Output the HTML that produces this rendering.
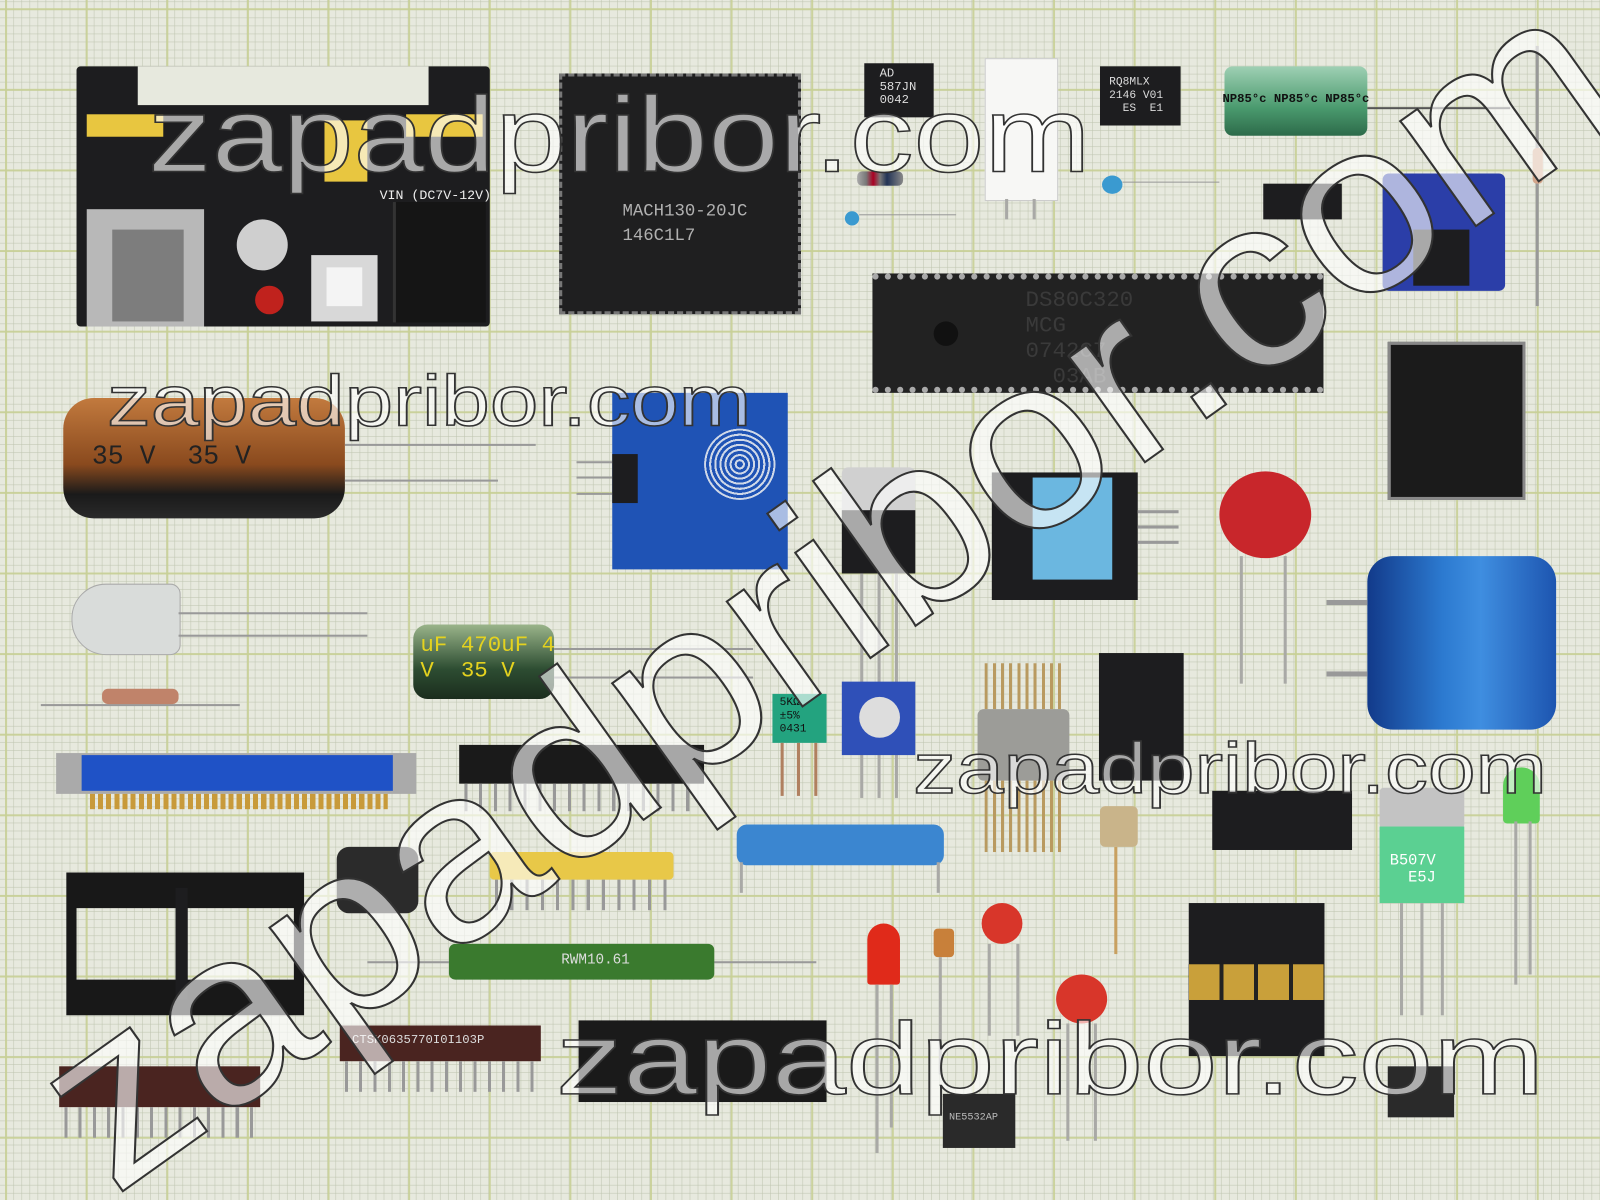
<!DOCTYPE html>
<html><head><meta charset="utf-8"><style>
html,body{margin:0;padding:0;width:1600px;height:1200px;overflow:hidden;background:#e7e9de}
#w{position:absolute;left:0;top:0;width:1568px;height:1176px;overflow:hidden;transform:scale(1.0204);transform-origin:0 0;
background-color:#e7e9de;
background-image:
linear-gradient(90deg,rgba(200,208,150,.9) 2px,transparent 2px),
linear-gradient(0deg,rgba(200,208,150,.9) 2px,transparent 2px),
linear-gradient(90deg,rgba(190,196,175,.55) 1px,transparent 1px),
linear-gradient(0deg,rgba(190,196,175,.55) 1px,transparent 1px);
background-size:79px 79px,79px 79px,7.9px 7.9px,7.9px 7.9px;
background-position:5px 10px,5px 10px,5px 10px,5px 10px;
font-family:"Liberation Sans",sans-serif}
.a{position:absolute}
.blk{background:#1d1d1f}
.leg{position:absolute;background:#a9a9a6;width:3px}
.wm{position:absolute;white-space:nowrap;color:rgba(255,255,255,.62);-webkit-text-stroke:1.5px #333;font-family:"Liberation Sans",sans-serif;line-height:1;transform-origin:0 0}
.t{position:absolute;color:#ccc;font-family:"Liberation Mono",monospace;white-space:nowrap}
</style></head><body><div id="w">

<!-- breadboard power -->
<div class="a blk" style="left:75px;top:65px;width:405px;height:255px;border-radius:4px"></div>
<div class="a" style="left:135px;top:65px;width:285px;height:38px;background:#e7e9de"></div>
<div class="a" style="left:85px;top:112px;width:75px;height:22px;background:#e8c640"></div>
<div class="a" style="left:398px;top:112px;width:75px;height:22px;background:#e8c640"></div>
<div class="a" style="left:318px;top:118px;width:42px;height:60px;background:#e8c640"></div>
<div class="a" style="left:85px;top:205px;width:115px;height:115px;background:#b8b8b8"></div>
<div class="a" style="left:110px;top:225px;width:70px;height:90px;background:#7d7d7d"></div>
<div class="a" style="left:232px;top:215px;width:50px;height:50px;border-radius:50%;background:#cfcfcf"></div>
<div class="a" style="left:250px;top:280px;width:28px;height:28px;border-radius:50%;background:#c0221d"></div>
<div class="a" style="left:305px;top:250px;width:65px;height:65px;background:#d8d8d8"></div>
<div class="a" style="left:320px;top:262px;width:35px;height:38px;background:#f4f4f4"></div>
<div class="a" style="left:385px;top:198px;width:88px;height:118px;background:#151515;border-left:3px solid #333"></div>
<div class="t" style="left:372px;top:184px;font-size:13px;color:#eee">VIN (DC7V-12V)</div>

<!-- PLCC -->
<div class="a" style="left:548px;top:72px;width:237px;height:236px;background:#1f1f20;border:3px dashed #777;box-sizing:border-box"></div>
<div class="t" style="left:610px;top:198px;font-size:17px;color:#b0b0b0">MACH130-20JC</div>
<div class="t" style="left:610px;top:222px;font-size:17px;color:#b0b0b0">146C1L7</div>

<!-- top small parts -->
<div class="a blk" style="left:847px;top:62px;width:68px;height:53px"></div>
<div class="t" style="left:862px;top:66px;font-size:12px;color:#ddd;line-height:13px">AD<br>587JN<br>0042</div>
<div class="a" style="left:965px;top:57px;width:70px;height:138px;background:#f7f7f5;border:1px solid #ccc"></div>
<div class="leg" style="left:985px;top:195px;height:20px"></div><div class="leg" style="left:1012px;top:195px;height:20px"></div>
<div class="a blk" style="left:1078px;top:65px;width:79px;height:58px"></div>
<div class="t" style="left:1087px;top:75px;font-size:11px;color:#ddd;line-height:13px">RQ8MLX<br>2146 V01<br>&nbsp;&nbsp;ES&nbsp; E1</div>
<div class="a" style="left:1200px;top:65px;width:140px;height:68px;background:linear-gradient(#9fd0b4,#4a9a6e 60%,#2d6b4a);border-radius:8px"></div>
<div class="t" style="left:1198px;top:90px;font-size:12px;color:#111;font-weight:bold">NP85°c NP85°c NP85°c</div>
<div class="a" style="left:1340px;top:105px;width:140px;height:2px;background:#555"></div>
<div class="a" style="left:840px;top:168px;width:45px;height:14px;background:linear-gradient(90deg,#aaa,#777 20%,#a02 35%,#777 50%,#235 65%,#888);border-radius:5px"></div>
<div class="a" style="left:828px;top:207px;width:14px;height:14px;border-radius:50%;background:#3a9ad0"></div>
<div class="a" style="left:842px;top:210px;width:95px;height:1px;background:#999"></div>
<div class="a" style="left:1080px;top:172px;width:20px;height:18px;border-radius:50%;background:#3a9ad0"></div>
<div class="a" style="left:1100px;top:178px;width:95px;height:1px;background:#999"></div>
<div class="a blk" style="left:1238px;top:180px;width:77px;height:35px"></div>
<div class="a" style="left:1355px;top:170px;width:120px;height:115px;background:#2b3ea8;border-radius:6px"></div>
<div class="a blk" style="left:1385px;top:225px;width:55px;height:55px"></div>
<div class="a" style="left:1505px;top:45px;width:3px;height:255px;background:#999"></div>
<div class="a" style="left:1502px;top:145px;width:10px;height:35px;background:#d3a58a;border-radius:4px"></div>

<!-- DIP40 -->
<div class="a" style="left:855px;top:268px;width:442px;height:117px;background:#222;border-top:6px dotted #aaa;border-bottom:6px dotted #aaa;box-sizing:border-box"></div>
<div class="a" style="left:915px;top:315px;width:24px;height:24px;border-radius:50%;background:#111"></div>
<div class="t" style="left:1005px;top:282px;font-size:22px;color:#3a3a3a">DS80C320<br>MCG<br>0742C7<br>&nbsp;&nbsp;03AB</div>

<!-- black module -->
<div class="a" style="left:1360px;top:335px;width:135px;height:155px;background:#1b1b1b;border:3px solid #888;box-sizing:border-box"></div>

<!-- orange cap -->
<div class="a" style="left:62px;top:390px;width:276px;height:118px;background:linear-gradient(#c27a3e,#8a4a1e 55%,#1a1a1a 80%,#2a2a2a);border-radius:30px"></div>
<div class="t" style="left:90px;top:432px;font-size:26px;color:#222">35 V&nbsp;&nbsp;35 V</div>
<div class="a" style="left:338px;top:435px;width:187px;height:2px;background:#999"></div>
<div class="a" style="left:338px;top:470px;width:150px;height:2px;background:#999"></div>

<!-- touch sensor -->
<div class="a" style="left:600px;top:385px;width:172px;height:173px;background:#1f53b5"></div>
<div class="a" style="left:690px;top:420px;width:70px;height:70px;border-radius:50%;background:repeating-radial-gradient(#1f53b5 0 3px,#cfd8e8 3px 5px)"></div>
<div class="a" style="left:565px;top:452px;width:40px;height:2px;background:#999;box-shadow:0 15px #999,0 31px #999"></div>
<div class="a blk" style="left:600px;top:445px;width:25px;height:48px"></div>

<!-- TO-220 -->
<div class="a" style="left:825px;top:458px;width:72px;height:50px;background:#d0d0d0;border-radius:6px"></div>
<div class="a blk" style="left:825px;top:500px;width:72px;height:62px"></div>
<div class="leg" style="left:843px;top:562px;height:220px"></div><div class="leg" style="left:860px;top:562px;height:220px"></div><div class="leg" style="left:877px;top:562px;height:220px"></div>

<!-- DHT -->
<div class="a blk" style="left:972px;top:463px;width:143px;height:125px"></div>
<div class="a" style="left:1012px;top:468px;width:78px;height:100px;background:#6bb7e0"></div>
<div class="a" style="left:1115px;top:500px;width:40px;height:3px;background:#999;box-shadow:0 15px #999,0 30px #999"></div>

<!-- varistor -->
<div class="a" style="left:1195px;top:462px;width:90px;height:85px;border-radius:50%;background:#c8262b"></div>
<div class="leg" style="left:1215px;top:545px;height:125px"></div><div class="leg" style="left:1258px;top:545px;height:125px"></div>

<!-- blue big cap -->
<div class="a" style="left:1340px;top:545px;width:185px;height:170px;background:linear-gradient(90deg,#123a8a,#2c7ad0 40%,#3f8ee0 60%,#1d55b0);border-radius:25px"></div>
<div class="a" style="left:1300px;top:588px;width:40px;height:5px;background:#999;box-shadow:0 70px #999"></div>

<!-- LED clear -->
<div class="a" style="left:70px;top:572px;width:105px;height:68px;background:#d9dcda;border-radius:34px 10px 10px 34px;border:1px solid #aaa"></div>
<div class="a" style="left:175px;top:600px;width:185px;height:2px;background:#999;box-shadow:0 22px #999"></div>
<div class="a" style="left:40px;top:690px;width:195px;height:2px;background:#999"></div>
<div class="a" style="left:100px;top:675px;width:75px;height:15px;background:#c0836a;border-radius:6px"></div>

<!-- green electrolytic -->
<div class="a" style="left:405px;top:612px;width:138px;height:73px;background:linear-gradient(#9ab48a,#2d4d32 60%,#1b2d1d);border-radius:14px"></div>
<div class="t" style="left:412px;top:620px;font-size:22px;color:#e4d21f">uF 470uF 4<br>V&nbsp; 35 V</div>
<div class="a" style="left:543px;top:635px;width:195px;height:2px;background:#999;box-shadow:0 28px #999"></div>

<!-- trimmers -->
<div class="a" style="left:757px;top:680px;width:53px;height:48px;background:#23a37f"></div>
<div class="t" style="left:764px;top:683px;font-size:11px;color:#111;line-height:13px">5KΩ<br>±5%<br>0431</div>
<div class="leg" style="left:765px;top:728px;height:52px;background:#b08060"></div><div class="leg" style="left:781px;top:728px;height:52px;background:#b08060"></div><div class="leg" style="left:798px;top:728px;height:52px;background:#b08060"></div>
<div class="a" style="left:825px;top:668px;width:72px;height:72px;background:#2f50b8"></div>
<div class="a" style="left:842px;top:683px;width:40px;height:40px;border-radius:50%;background:#ddd"></div>

<!-- metal IC -->
<div class="a" style="left:965px;top:650px;width:80px;height:45px;background:repeating-linear-gradient(90deg,#b99a60 0 3px,transparent 3px 8px)"></div>
<div class="a" style="left:958px;top:695px;width:90px;height:70px;background:#9c9c98;border-radius:6px"></div>
<div class="a" style="left:965px;top:765px;width:80px;height:70px;background:repeating-linear-gradient(90deg,#b99a60 0 3px,transparent 3px 8px)"></div>

<!-- 7 seg -->
<div class="a blk" style="left:1077px;top:640px;width:83px;height:125px"></div>

<!-- edge connector -->
<div class="a" style="left:55px;top:738px;width:353px;height:40px;background:#aaa"></div>
<div class="a" style="left:80px;top:740px;width:305px;height:35px;background:#1f52c6"></div>
<div class="a" style="left:88px;top:778px;width:292px;height:15px;background:repeating-linear-gradient(90deg,#c89a3a 0 5px,transparent 5px 8px)"></div>
<!-- SIP header -->
<div class="a" style="left:450px;top:730px;width:240px;height:38px;background:#1a1a1a"></div>
<div class="a" style="left:455px;top:768px;width:232px;height:27px;background:repeating-linear-gradient(90deg,#999 0 3px,transparent 3px 14.5px)"></div>

<!-- blue resistor network -->
<div class="a" style="left:722px;top:808px;width:203px;height:40px;background:#3b86d0;border-radius:10px"></div>
<div class="leg" style="left:725px;top:845px;height:30px"></div><div class="leg" style="left:918px;top:845px;height:30px"></div>

<!-- SOIC -->
<div class="a blk" style="left:1188px;top:775px;width:137px;height:58px"></div>
<!-- TO-220 green -->
<div class="a" style="left:1352px;top:772px;width:83px;height:40px;background:#c3c3c3;border-radius:4px"></div>
<div class="a" style="left:1352px;top:810px;width:83px;height:75px;background:#5bd092"></div>
<div class="t" style="left:1362px;top:835px;font-size:15px;color:#fff">B507V<br>&nbsp;&nbsp;E5J</div>
<div class="leg" style="left:1372px;top:885px;height:110px"></div><div class="leg" style="left:1392px;top:885px;height:110px"></div><div class="leg" style="left:1412px;top:885px;height:110px"></div>
<!-- green LED -->
<div class="a" style="left:1473px;top:752px;width:36px;height:55px;background:#5fcf5a;border-radius:18px 18px 4px 4px"></div>
<div class="leg" style="left:1484px;top:805px;height:160px"></div><div class="leg" style="left:1498px;top:805px;height:150px"></div>

<!-- socket -->
<div class="a" style="left:65px;top:855px;width:233px;height:140px;border:10px solid #181818;box-sizing:border-box;border-top-width:35px;border-bottom-width:35px"></div>
<div class="a blk" style="left:172px;top:870px;width:12px;height:110px"></div>
<!-- inductor -->
<div class="a" style="left:330px;top:830px;width:80px;height:65px;background:#2b2b2b;border-radius:12px"></div>
<!-- yellow SIP -->
<div class="a" style="left:480px;top:835px;width:180px;height:27px;background:#e8c848;border-radius:4px"></div>
<div class="a" style="left:485px;top:862px;width:170px;height:30px;background:repeating-linear-gradient(90deg,#999 0 3px,transparent 3px 15px)"></div>
<!-- green resistor -->
<div class="a" style="left:360px;top:942px;width:440px;height:2px;background:#999"></div>
<div class="a" style="left:440px;top:925px;width:260px;height:35px;background:#3a7a2e;border-radius:6px"></div>
<div class="t" style="left:550px;top:933px;font-size:14px;color:#ddd">RWM10.61</div>
<!-- TO-18 -->
<div class="a" style="left:1078px;top:790px;width:37px;height:40px;background:#c9b48a;border-radius:5px"></div>
<div class="leg" style="left:1092px;top:830px;height:105px;background:#c8a060"></div>
<!-- gold module -->
<div class="a blk" style="left:1165px;top:885px;width:133px;height:150px"></div>
<div class="a" style="left:1165px;top:945px;width:133px;height:35px;background:repeating-linear-gradient(90deg,#c9a03a 0 30px,#222 30px 34px)"></div>
<!-- red LED and caps -->
<div class="a" style="left:850px;top:905px;width:32px;height:60px;background:#e02a1a;border-radius:16px 16px 3px 3px"></div>
<div class="leg" style="left:858px;top:965px;height:165px"></div><div class="leg" style="left:872px;top:965px;height:140px"></div>
<div class="a" style="left:915px;top:910px;width:20px;height:28px;background:#c8803a;border-radius:4px"></div>
<div class="leg" style="left:920px;top:938px;height:115px"></div>
<div class="a" style="left:962px;top:885px;width:40px;height:40px;border-radius:50%;background:#d8362a"></div>
<div class="leg" style="left:968px;top:925px;height:90px"></div><div class="leg" style="left:996px;top:925px;height:90px"></div>
<div class="a" style="left:1035px;top:955px;width:50px;height:48px;border-radius:50%;background:#d8362a"></div>
<div class="leg" style="left:1045px;top:1003px;height:115px"></div><div class="leg" style="left:1072px;top:1003px;height:115px"></div>

<!-- SIP brown -->
<div class="a" style="left:333px;top:1005px;width:197px;height:35px;background:#4a2420"></div>
<div class="t" style="left:345px;top:1012px;font-size:12px;color:#ddd">CTSK0635770I0I103P</div>
<div class="a" style="left:338px;top:1040px;width:190px;height:30px;background:repeating-linear-gradient(90deg,#999 0 3px,transparent 3px 14px)"></div>
<div class="a" style="left:58px;top:1045px;width:197px;height:40px;background:#4a2420"></div>
<div class="a" style="left:63px;top:1085px;width:190px;height:30px;background:repeating-linear-gradient(90deg,#999 0 3px,transparent 3px 14px)"></div>
<!-- black SIP -->
<div class="a" style="left:567px;top:1000px;width:243px;height:80px;background:#1a1a1a"></div>
<!-- DIP8 bottom -->
<div class="a" style="left:924px;top:1072px;width:71px;height:53px;background:#2a2a2a"></div>
<div class="t" style="left:930px;top:1090px;font-size:10px;color:#bbb">NE5532AP</div>
<div class="a" style="left:1360px;top:1045px;width:65px;height:50px;background:#2a2a2a"></div>

<!-- watermarks -->
<div class="wm" style="left:145px;top:80px;font-size:105px;transform:scaleX(1.19)">zapadpribor.com</div>
<div class="wm" style="left:105px;top:358px;font-size:70px;transform:scaleX(1.22)">zapadpribor.com</div>
<div class="wm" style="left:895px;top:718px;font-size:70px;transform:scaleX(1.2)">zapadpribor.com</div>
<div class="wm" style="left:545px;top:988px;font-size:100px;transform:scaleX(1.31)">zapadpribor.com</div>
<div class="wm" style="left:808px;top:575px;font-size:240px;transform-origin:50% 50%;transform:translate(-50%,-50%) rotate(-35.5deg) scaleX(1.03);-webkit-text-stroke:2px #333">zapadpribor.com</div>

</div></body></html>
